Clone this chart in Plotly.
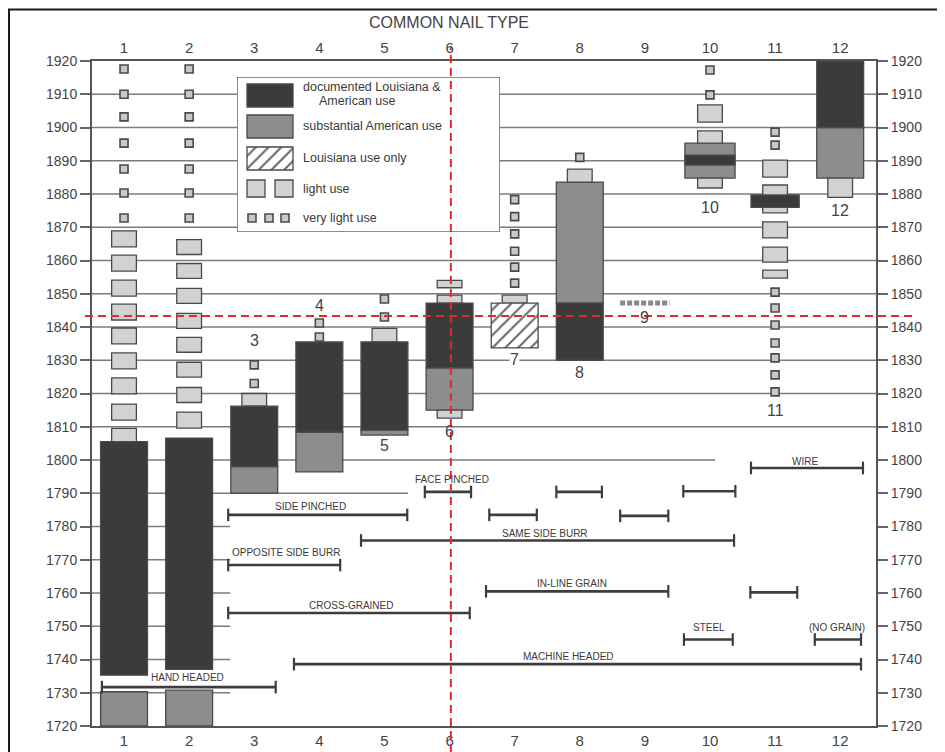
import plotly.graph_objects as go

# ---------------- data ----------------
COLS = list(range(1, 13))
YTICKS = list(range(1720, 1921, 10))

# documented Louisiana & American use (dark)
DARK_X = [1, 2, 3, 4, 5, 6, 8, 12, 10, 11]
DARK_LO = [1735.3, 1737.0, 1798.0, 1808.4, 1809.0, 1827.7, 1830.0, 1900.0, 1888.7, 1876.0]
DARK_HI = [1805.5, 1806.6, 1816.2, 1835.5, 1835.5, 1847.2, 1847.2, 1920.0, 1891.7, 1879.7]
DARK_W = [0.72, 0.72, 0.72, 0.72, 0.72, 0.72, 0.72, 0.72, 0.77, 0.74]

# substantial American use (medium gray)
GRAY_X = [1, 2, 3, 4, 5, 6, 8, 12, 10]
GRAY_LO = [1720.0, 1720.0, 1790.0, 1796.4, 1807.5, 1815.0, 1847.2, 1884.8, 1884.8]
GRAY_HI = [1730.3, 1730.8, 1798.0, 1808.4, 1809.0, 1827.7, 1883.6, 1900.0, 1895.3]
GRAY_W = [0.72, 0.72, 0.72, 0.72, 0.72, 0.72, 0.72, 0.72, 0.77]

# Louisiana use only (hatched)
HATCH_X = [7]
HATCH_LO = [1833.7]
HATCH_HI = [1847.2]

# light use boxes
LIGHT_X = [1] * 9 + [2] * 8 + [3, 5, 6, 6, 6, 7, 8, 10, 10, 10] + [11] * 6 + [12]
LIGHT_LO = [1805.5, 1812.0, 1819.9, 1827.4, 1834.9, 1842.1, 1849.3, 1856.8, 1864.1,
            1809.6, 1817.3, 1824.9, 1832.4, 1839.6, 1847.1, 1854.6, 1861.8,
            1816.2, 1835.5, 1847.2, 1812.6, 1851.8, 1847.2, 1883.6, 1901.6, 1895.3, 1881.8,
            1885.1, 1879.1, 1874.3, 1866.8, 1859.5, 1854.7,
            1879.0]
LIGHT_HI = [1809.5, 1816.8, 1824.7, 1832.2, 1839.7, 1846.9, 1854.1, 1861.6, 1868.9,
            1814.4, 1821.8, 1829.4, 1836.9, 1844.1, 1851.6, 1859.1, 1866.3,
            1820.0, 1839.6, 1849.6, 1815.0, 1854.0, 1849.6, 1887.5, 1906.8, 1899.0, 1884.8,
            1890.2, 1882.7, 1876.0, 1871.6, 1864.0, 1857.1,
            1884.8]

# very light use (tiny squares)
TINY_X = [1] * 7 + [2] * 7 + [3, 3, 4, 4, 5, 5] + [7] * 6 + [8, 10, 10] + [11] * 9
TINY_Y = [1917.6, 1910.0, 1903.2, 1895.3, 1887.5, 1880.3, 1872.8,
          1917.6, 1910.0, 1903.2, 1895.3, 1887.5, 1880.3, 1872.8,
          1823.0, 1828.6, 1837.0, 1841.2, 1843.0, 1848.4,
          1853.2, 1858.0, 1862.8, 1868.0, 1873.2, 1878.3,
          1891.0, 1917.3, 1909.8,
          1898.6, 1894.7, 1850.5, 1845.7, 1840.6, 1835.2, 1830.7, 1825.6, 1820.5]
# type 9 : very light use row
ROW9_X = [8.62, 9.38]
ROW9_Y = [1847.2, 1847.2]

# column number labels placed near the bars
NUM_X = [3, 4, 5, 6, 7, 8, 9, 10, 11, 12]
NUM_Y = [1836.0, 1846.6, 1804.3, 1808.6, 1830.3, 1826.2, 1842.8, 1876.0, 1815.0, 1875.0]

# manufacturing features (lower panel)
FEAT_X0 = [0.66, 2.60, 2.60, 2.60, 3.61, 5.62, 7.64, 9.59, 6.61, 8.62, 4.64, 6.56, 10.62, 9.60, 11.61, 10.63]
FEAT_X1 = [3.33, 5.35, 4.32, 6.31, 12.32, 6.33, 8.34, 10.39, 7.34, 9.36, 10.37, 9.36, 11.34, 10.35, 12.32, 12.35]
FEAT_Y = [1731.7, 1783.5, 1768.4, 1754.0, 1738.6, 1790.4, 1790.4, 1790.6, 1783.5, 1783.2,
          1775.8, 1760.5, 1760.2, 1746.0, 1746.0, 1797.6]
LABEL_TXT = ["HAND HEADED", "SIDE PINCHED", "OPPOSITE SIDE BURR", "CROSS-GRAINED", "MACHINE HEADED",
             "FACE PINCHED", "SAME SIDE BURR", "IN-LINE GRAIN", "STEEL", "(NO GRAIN)", "WIRE"]
LABEL_X = [1.97, 3.86, 3.49, 4.49, 7.82, 6.04, 7.47, 7.88, 9.99, 11.95, 11.46]
LABEL_Y = [1734.7, 1785.9, 1772.3, 1756.1, 1740.8, 1794.0, 1778.0, 1763.0, 1749.5, 1749.5, 1799.4]

# horizontal rule lines: year, right end (left end is the axis)
GRID_Y = [1730, 1740, 1750, 1760, 1770, 1780, 1790, 1800, 1810, 1820, 1830, 1840, 1850,
          1860, 1870, 1880, 1890, 1900, 1910]
GRID_END = [2.63, 2.63, 2.63, 2.63, 2.63, 2.63, 5.36, 10.08] + [12.55] * 11

# red reference cross
REF_X = 6.02
REF_Y = 1843.3

XMIN, XMAX = 0.508, 12.55
FONT = "Liberation Sans, Arial, sans-serif"
INK = "#444444"
DARK = "#3b3b3b"
GRAY = "#8d8d8d"
LIGHT = "#d2d2d2"
EDGE = "#4a4a4a"

# page body has an 8px default margin: plot area wanted at (92,61)-(876,726) on screen
OFF = 8
PL, PT, PW, PH = 92, 61, 784, 665

fig = go.Figure()

def span_bar(xs, lo, hi, w, color, name, pattern=None):
    fig.add_trace(go.Bar(
        x=xs, y=[h - l for l, h in zip(lo, hi)], base=lo, width=w,
        marker=dict(color=color, line=dict(color=EDGE, width=1.3),
                    pattern=pattern if pattern else None),
        name=name, showlegend=False, hoverinfo="skip"))

span_bar(GRAY_X, GRAY_LO, GRAY_HI, GRAY_W, GRAY, "substantial")
span_bar(LIGHT_X, LIGHT_LO, LIGHT_HI, [0.38] * len(LIGHT_X), LIGHT, "light")
span_bar(DARK_X, DARK_LO, DARK_HI, DARK_W, DARK, "documented")
span_bar(HATCH_X, HATCH_LO, HATCH_HI, [0.72], "white", "louisiana",
         dict(shape="/", fgcolor="#666666", bgcolor="white", size=9, solidity=0.22, fillmode="replace"))

fig.add_trace(go.Scatter(
    x=TINY_X, y=TINY_Y, mode="markers",
    marker=dict(symbol="square", size=8, color="#c8c8c8", line=dict(color=EDGE, width=1.6)),
    showlegend=False, hoverinfo="skip"))
fig.add_trace(go.Scatter(
    x=ROW9_X, y=ROW9_Y, mode="lines",
    line=dict(color="#888888", width=5, dash="5px,2px"),
    showlegend=False, hoverinfo="skip"))

# features
fx, fy = [], []
for a, b, y in zip(FEAT_X0, FEAT_X1, FEAT_Y):
    fx += [a, b, None]
    fy += [y, y, None]
fig.add_trace(go.Scatter(
    x=fx, y=fy, mode="lines+markers",
    line=dict(color="#3d3d3d", width=2.6),
    marker=dict(symbol="line-ns", size=9, line=dict(color="#3d3d3d", width=2.2)),
    showlegend=False, hoverinfo="skip", cliponaxis=False))

# dummy trace for top / right axes
fig.add_trace(go.Scatter(x=[1], y=[1720], xaxis="x2", yaxis="y2", mode="markers",
                         marker=dict(opacity=0), showlegend=False, hoverinfo="skip"))

# ---------------- legend (own pixel-like axes) ----------------
LEG_W, LEG_H = 263, 155
fig.add_trace(go.Bar(x=[33, 33], base=[7, 38], y=[23, 23], width=[46, 46],
                     marker=dict(color=[DARK, GRAY], line=dict(color=EDGE, width=1.3)),
                     xaxis="x3", yaxis="y3", showlegend=False, hoverinfo="skip"))
fig.add_trace(go.Bar(x=[33], base=[70], y=[23], width=[46],
                     marker=dict(color="white", line=dict(color=EDGE, width=1.3),
                                 pattern=dict(shape="/", fgcolor="#666666", bgcolor="white",
                                              size=9, solidity=0.22, fillmode="replace")),
                     xaxis="x3", yaxis="y3", showlegend=False, hoverinfo="skip"))
fig.add_trace(go.Bar(x=[19, 47], base=[103, 103], y=[17, 17], width=[18, 18],
                     marker=dict(color=LIGHT, line=dict(color=EDGE, width=1.3)),
                     xaxis="x3", yaxis="y3", showlegend=False, hoverinfo="skip"))
fig.add_trace(go.Scatter(x=[15, 32, 48], y=[141, 141, 141], mode="markers",
                         marker=dict(symbol="square", size=8, color="#c8c8c8",
                                     line=dict(color=EDGE, width=1.6)),
                         xaxis="x3", yaxis="y3", showlegend=False, hoverinfo="skip"))

def px_x(px):
    return (px - PL) / PW

def px_y(py):
    return (PT + PH - py) / PH

annotations = []
leg_text = [("documented Louisiana &", 65, 10), ("American use", 81, 24),
            ("substantial American use", 65, 49), ("Louisiana use only", 65, 81),
            ("light use", 65, 112), ("very light use", 65, 141)]
for t, x, y in leg_text:
    annotations.append(dict(text=t, x=x, y=y, xref="x3", yref="y3", showarrow=False,
                            xanchor="left", yanchor="middle", borderpad=0,
                            font=dict(family=FONT, size=12.5, color="#3a3a3a")))

for x, y in zip(NUM_X, NUM_Y):
    annotations.append(dict(text=str(x), x=x, y=y, xref="x", yref="y", showarrow=False,
                            font=dict(family=FONT, size=16, color=INK),
                            bgcolor="white" if x == 7 else None, borderpad=0))

for t, x, y in zip(LABEL_TXT, LABEL_X, LABEL_Y):
    annotations.append(dict(text=t, x=x, y=y, xref="x", yref="y", showarrow=False,
                            font=dict(family=FONT, size=10, color="#3a3a3a")))

annotations.append(dict(text="COMMON NAIL TYPE", x=px_x(449), y=px_y(23),
                        xref="paper", yref="paper", showarrow=False,
                        xanchor="center", yanchor="middle",
                        font=dict(family=FONT, size=16, color=INK)))

shapes = []
for y, x1 in zip(GRID_Y, GRID_END):
    shapes.append(dict(type="line", xref="x", yref="y", x0=XMIN, x1=x1, y0=y, y1=y,
                       line=dict(color="#7c7c7c", width=1.5), layer="below"))
# legend box
shapes.append(dict(type="rect", xref="x3", yref="y3", x0=0, x1=LEG_W, y0=0, y1=LEG_H,
                   fillcolor="white", line=dict(color="#6a6a6a", width=1.6), layer="below"))
# red reference cross
shapes.append(dict(type="line", xref="x", yref="paper", x0=REF_X, x1=REF_X,
                   y0=px_y(765), y1=px_y(47),
                   line=dict(color="#e8262b", width=2, dash="8px,5px"), layer="above"))
shapes.append(dict(type="line", xref="paper", yref="y", x0=px_x(85), x1=px_x(912),
                   y0=REF_Y, y1=REF_Y,
                   line=dict(color="#e8262b", width=2, dash="8px,5px"), layer="above"))
# image frame (top and left edges visible)
shapes.append(dict(type="rect", xref="paper", yref="paper",
                   x0=px_x(9), x1=px_x(960), y0=px_y(775), y1=px_y(9.5),
                   line=dict(color="#1a1a1a", width=2), fillcolor="rgba(0,0,0,0)", layer="above"))

axis_common = dict(showgrid=False, zeroline=False, fixedrange=True, automargin=False)
fig.update_layout(
    width=945, height=752,
    margin=dict(l=PL - OFF, r=945 - (PL - OFF) - PW, t=PT - OFF, b=752 - (PT - OFF) - PH,
                pad=0, autoexpand=False),
    paper_bgcolor="white", plot_bgcolor="white",
    barmode="overlay", showlegend=False,
    font=dict(family=FONT, color=INK),
    xaxis=dict(range=[XMIN, XMAX], tickvals=COLS, ticktext=[str(c) for c in COLS],
               ticks="", showline=True, linecolor="#555555", linewidth=2,
               tickfont=dict(size=15, color=INK), **axis_common),
    xaxis2=dict(range=[XMIN, XMAX], overlaying="x", side="top", anchor="y",
                tickvals=COLS, ticktext=[str(c) for c in COLS], ticks="",
                showline=True, linecolor="#555555", linewidth=2,
                tickfont=dict(size=15, color=INK), **axis_common),
    yaxis=dict(range=[1720, 1920], tickvals=YTICKS, ticks="outside", ticklen=10, tickwidth=1.5,
               tickcolor="#666666", showline=True, linecolor="#555555", linewidth=2,
               tickfont=dict(size=14, color=INK), **axis_common),
    yaxis2=dict(range=[1720, 1920], overlaying="y", side="right", anchor="x",
                tickvals=YTICKS, ticks="outside", ticklen=10, tickwidth=1.5,
                tickcolor="#666666", showline=True, linecolor="#555555", linewidth=2,
                tickfont=dict(size=14, color=INK), **axis_common),
    xaxis3=dict(domain=[px_x(237), px_x(500)], anchor="y3",
                range=[0, LEG_W], visible=False, **axis_common),
    yaxis3=dict(domain=[px_y(232), px_y(77)], anchor="x3",
                range=[LEG_H, 0], visible=False, **axis_common),
    shapes=shapes, annotations=annotations,
)

fig.write_html("out.html")
